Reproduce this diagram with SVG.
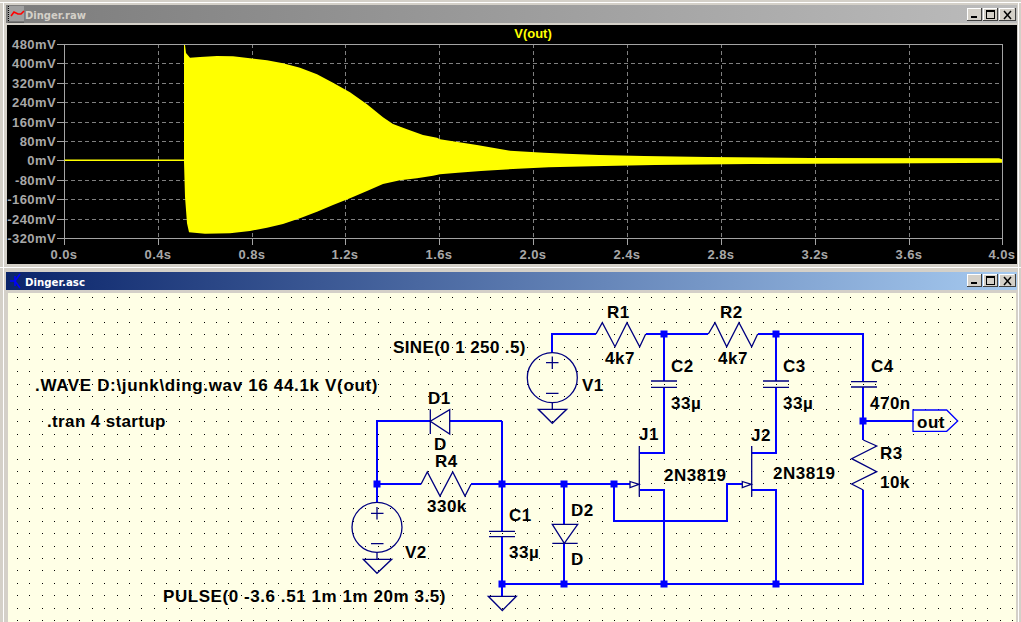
<svg xmlns="http://www.w3.org/2000/svg" width="1021" height="622" viewBox="0 0 1021 622">
<defs>
<linearGradient id="grayBar" x1="0" x2="1" y1="0" y2="0"><stop offset="0" stop-color="#7c7c7c"/><stop offset="1" stop-color="#bcbcbc"/></linearGradient>
<linearGradient id="blueBar" x1="0" x2="1" y1="0" y2="0"><stop offset="0" stop-color="#0a246a"/><stop offset="1" stop-color="#a6caf0"/></linearGradient>
</defs>
<style>
.ax{font:bold 13px "Liberation Sans",Arial,sans-serif;fill:#a8a8a8;letter-spacing:.4px}
.sch{font:bold 17px "Liberation Sans",Arial,sans-serif;fill:#000;letter-spacing:.5px}
.ttl{font:bold 11px "DejaVu Sans",sans-serif}
.grid{stroke:#808080;stroke-width:1;stroke-dasharray:4 3;fill:none;shape-rendering:crispEdges}
.frame{stroke:#a4a4a4;stroke-width:1;fill:none;shape-rendering:crispEdges}
.wire{stroke:#0000ff;stroke-width:2;fill:none}
.sym{stroke:#000080;stroke-width:1.3;fill:none}
.sd{stroke:#000080;stroke-width:1.3;fill:#ffffe6}
.jn{fill:#0000ff}
.btn{fill:#d4d0c8}
.bsh{fill:none;stroke:#404040;shape-rendering:crispEdges}
.bhl{fill:none;stroke:#fff;shape-rendering:crispEdges}
.gly{fill:none;stroke:#000;shape-rendering:crispEdges}
</style>
<rect width="1021" height="622" fill="#d4d0c8"/>
<path d="M0 2.5H1021M3.5 2V622M1018.5 2V622M0 267.5H1021" stroke="#fff" fill="none"/>
<g id="plot-window">
<rect x="6" y="5" width="1011" height="18" fill="url(#grayBar)"/>
<rect x="7" y="25" width="1010" height="239" fill="#000"/>
<rect x="8" y="6" width="16" height="16" fill="#a0a0a0"/>
<path d="M8.5 6V22H24" stroke="#000" stroke-dasharray="1 1" fill="none"/>
<path d="M11 16l3-4 4 2 3 0 3-3" stroke="#f00" stroke-width="1.6" fill="none"/>
<text class="ttl" x="25" y="19" fill="#d4d0c8" textLength="61" lengthAdjust="spacingAndGlyphs">Dinger.raw</text>
<g><rect class="btn" x="967" y="8" width="15" height="13"/><rect class="btn" x="983" y="8" width="15" height="13"/><rect class="btn" x="999" y="8" width="16" height="13"/>
<path class="bhl" d="M967.5 20V8.5H981M983.5 20V8.5H997M999.5 20V8.5H1014"/><path class="bsh" d="M981.5 8V20.5H967M997.5 8V20.5H983M1015.5 8V20.5H999"/>
<path class="gly" d="M971 17.5h6M971 16.5h6M986.5 10.5h8v8h-8zM986.5 11.5h8"/><path d="M1004 11l7 8M1011 11l-7 8" stroke="#000" stroke-width="1.5" fill="none"/></g>
<path class="grid" d="M158.5 44V238M252.5 44V238M345.5 44V238M439.5 44V238M533.5 44V238M627.5 44V238M721.5 44V238M815.5 44V238M909.5 44V238M64 63.5H1002M64 83.5H1002M64 102.5H1002M64 122.5H1002M64 141.5H1002M64 160.5H1002M64 180.5H1002M64 199.5H1002M64 219.5H1002"/>
<path class="frame" d="M64.5 44.5H1002.5V238.5H64.5ZM57 44.5H64M57 63.5H64M57 83.5H64M57 102.5H64M57 122.5H64M57 141.5H64M57 160.5H64M57 180.5H64M57 199.5H64M57 219.5H64M57 238.5H64M64.5 238V245M158.5 238V245M252.5 238V245M345.5 238V245M439.5 238V245M533.5 238V245M627.5 238V245M721.5 238V245M815.5 238V245M909.5 238V245M1002.5 238V245"/>
<path d="M64.5 160.3H184" stroke="#ff0" stroke-width="1.6" fill="none"/>
<path fill="#ff0" d="M184 45H185L186 53L190 57.7L200 57L217 56L233 56.3L250 58.3L267 60.3L283 63.3L300 67.7L317 74.3L333 82.7L350 92.3L367 104.3L383 117.3L393 124L407 129.3L423 135L437 137.7L440 139.3L477 145L510 150.7L544 152.7L566 153.7L599 155L644 156L708 157L810 158L999 158.3L1002 159.3V162.7L920 163.3L751 164L655 165L592 166.3L549 167.3L518 168.7L481 171L458 172.7L440 174.3L433 175.7L417 178.3L400 180.3L383 184L367 191L350 198.3L333 205L317 211.7L300 218.3L283 224L267 227.7L250 231L230 233.3L205 233.7L189 232.3L187 223.3L185 196.7L184 162Z"/>
<g class="ax" text-anchor="end">
<text x="56" y="49">480mV</text><text x="56" y="68">400mV</text><text x="56" y="88">320mV</text><text x="56" y="107">240mV</text><text x="56" y="127">160mV</text><text x="56" y="146">80mV</text><text x="56" y="165">0mV</text><text x="56" y="185">-80mV</text><text x="56" y="204">-160mV</text><text x="56" y="224">-240mV</text><text x="56" y="243">-320mV</text>
</g>
<g class="ax" text-anchor="middle">
<text x="64" y="259">0.0s</text><text x="158" y="259">0.4s</text><text x="252" y="259">0.8s</text><text x="345" y="259">1.2s</text><text x="439" y="259">1.6s</text><text x="533" y="259">2.0s</text><text x="627" y="259">2.4s</text><text x="721" y="259">2.8s</text><text x="815" y="259">3.2s</text><text x="909" y="259">3.6s</text><text x="1002" y="259">4.0s</text>
</g>
<text x="533" y="38" text-anchor="middle" style="font:bold 13px 'Liberation Sans',Arial,sans-serif;fill:#ff0">V(out)</text>
</g>
<g id="schematic-window">
<rect x="6" y="272" width="1011" height="18" fill="url(#blueBar)"/>
<rect x="8" y="293" width="1008" height="329" fill="#ffffe6"/>
<path d="M10 281H15M15 281L20 274M15 281L20 288M15 276V286" stroke="#0000ff" stroke-width="1.5" fill="none"/>
<text class="ttl" x="25" y="286" fill="#fff" textLength="60" lengthAdjust="spacingAndGlyphs">Dinger.asc</text>
<g><rect class="btn" x="967" y="274" width="15" height="13"/><rect class="btn" x="983" y="274" width="15" height="13"/><rect class="btn" x="999" y="274" width="16" height="13"/>
<path class="bhl" d="M967.5 286V274.5H981M983.5 286V274.5H997M999.5 286V274.5H1014"/><path class="bsh" d="M981.5 274V286.5H967M997.5 274V286.5H983M1015.5 274V286.5H999"/>
<path class="gly" d="M971 283.5h6M971 282.5h6M986.5 276.5h8v8h-8zM986.5 277.5h8"/><path d="M1004 277l7 8M1011 277l-7 8" stroke="#000" stroke-width="1.5" fill="none"/></g>
<path id="dots" stroke="#000" stroke-dasharray="1 11.44" shape-rendering="crispEdges" fill="none" d="M17 297.5H1016M17 309.5H1016M17 322.5H1016M17 334.5H1016M17 347.5H1016M17 359.5H1016M17 371.5H1016M17 384.5H1016M17 396.5H1016M17 409.5H1016M17 421.5H1016M17 434.5H1016M17 446.5H1016M17 459.5H1016M17 471.5H1016M17 483.5H1016M17 496.5H1016M17 508.5H1016M17 521.5H1016M17 533.5H1016M17 546.5H1016M17 558.5H1016M17 570.5H1016M17 583.5H1016M17 595.5H1016M17 608.5H1016M17 620.5H1016"/>
</g>
<g id="connectors">
<path class="wire" d="M552 353V334H596M646 334H708M758 334H863V382M664 334V381M776 334V381M664 387V453H640M776 387V453H752M863 387V440M863 421H913M863 490V584H502M640 490H664V584M752 490H776V584M502 421H450M430 421H377V484M377 484H421M471 484H630M502 421V531M502 537V596M564 484V524M564 543V584M614 484V521H727V484H742M377 484V502"/>
</g>
<g id="junctions" class="jn">
<rect x="660.5" y="330.5" width="7" height="7"/><rect x="772.5" y="330.5" width="7" height="7"/><rect x="859.5" y="417.5" width="7" height="7"/><rect x="373.5" y="480.5" width="7" height="7"/><rect x="498.5" y="480.5" width="7" height="7"/><rect x="560.5" y="480.5" width="7" height="7"/><rect x="610.5" y="480.5" width="7" height="7"/><rect x="498.5" y="580.5" width="7" height="7"/><rect x="560.5" y="580.5" width="7" height="7"/><rect x="660.5" y="580.5" width="7" height="7"/><rect x="772.5" y="580.5" width="7" height="7"/>
</g>
<g id="V1"><circle class="sym" cx="552.3" cy="377.7" r="25"/><path class="sym" d="M552.3 356.5V369M546 362.7H558.5M546 393.3H558.5M552.3 402.7V409M538.3 409.3H566.7L552.3 423.3Z"/><text class="sch" x="582" y="391">V1</text><text class="sch" x="393" y="353" textLength="133">SINE(0 1 250 .5)</text></g>
<g id="V2"><circle class="sym" cx="377" cy="527.3" r="25"/><path class="sym" d="M377 507V519.5M371 513.3H383.5M371 543.7H383.5M377 552.3V559M363.3 559.3H391.7L377 573.3Z"/><text class="sch" x="405" y="558">V2</text><text class="sch" x="163" y="602" textLength="283">PULSE(0 -3.6 .51 1m 1m 20m 3.5)</text></g>
<g id="R1"><path class="sym" d="M596 334L602.3 322.7L615 346.7L627 322.7L639.7 346.7L645.7 334"/><text class="sch" x="607" y="318">R1</text><text class="sch" x="605" y="364">4k7</text></g>
<g id="R2"><path class="sym" d="M708.3 334L715 322.7L726.7 346.7L739 322.7L751.7 346.7L757.7 334"/><text class="sch" x="720" y="318">R2</text><text class="sch" x="718" y="364">4k7</text></g>
<g id="R3"><path class="sym" d="M863.3 440L876.7 446L851.7 458.7L876.7 471.7L851.7 484L863.3 490"/><text class="sch" x="880" y="459">R3</text><text class="sch" x="880" y="488">10k</text></g>
<g id="R4"><path class="sym" d="M421 484.3L427.3 472L440 496L452.7 472L465 496L471 484.3"/><text class="sch" x="435" y="467">R4</text><text class="sch" x="427" y="512">330k</text></g>
<g id="C1"><path class="sym" d="M489 531.3H515M489 536.7H515"/><text class="sch" x="509" y="521">C1</text><text class="sch" x="509" y="558">33µ</text></g>
<g id="C2"><path class="sym" d="M651 381H677M651 387.3H677"/><text class="sch" x="671" y="372">C2</text><text class="sch" x="671" y="409">33µ</text></g>
<g id="C3"><path class="sym" d="M763 381H789M763 387.3H789"/><text class="sch" x="783" y="372">C3</text><text class="sch" x="783" y="409">33µ</text></g>
<g id="C4"><path class="sym" d="M851 381.7H877M851 387H877"/><text class="sch" x="871" y="372">C4</text><text class="sch" x="870" y="409">470n</text></g>
<g id="D1"><path class="sym" d="M430.3 409.3V434M449.7 409.7V434L430.3 421.3Z"/><text class="sch" x="428" y="404">D1</text><text class="sch" x="434" y="450">D</text></g>
<g id="D2"><path class="sym" d="M552.3 524.3H577.7L564.3 543.3ZM552.3 543.3H577.7"/><text class="sch" x="571" y="516">D2</text><text class="sch" x="571" y="565">D</text></g>
<g id="J1"><path class="sym" d="M639.3 446V496.7"/><path class="sd" d="M630 481.5L639 484.3L630 487.5Z"/><text class="sch" x="639" y="440">J1</text><text class="sch" x="664" y="481">2N3819</text></g>
<g id="J2"><path class="sym" d="M751.7 446V496.7"/><path class="sd" d="M742.3 481.5L751.3 484.3L742.3 487.5Z"/><text class="sch" x="751" y="441">J2</text><text class="sch" x="773" y="479">2N3819</text></g>
<g id="GND1"><path class="sym" d="M488.3 596.3H516.3L502.3 610.5Z"/></g>
<g id="out"><path class="wire" style="stroke-width:1.3" d="M913 410H946.7L957.7 421L946.7 431.3H913Z"/><text class="sch" x="917" y="428">out</text></g>
<g id="directives"><text class="sch" x="35" y="391" textLength="343">.WAVE D:\junk\ding.wav 16 44.1k V(out)</text><text class="sch" x="47" y="427" textLength="119">.tran 4 startup</text></g>
</svg>
